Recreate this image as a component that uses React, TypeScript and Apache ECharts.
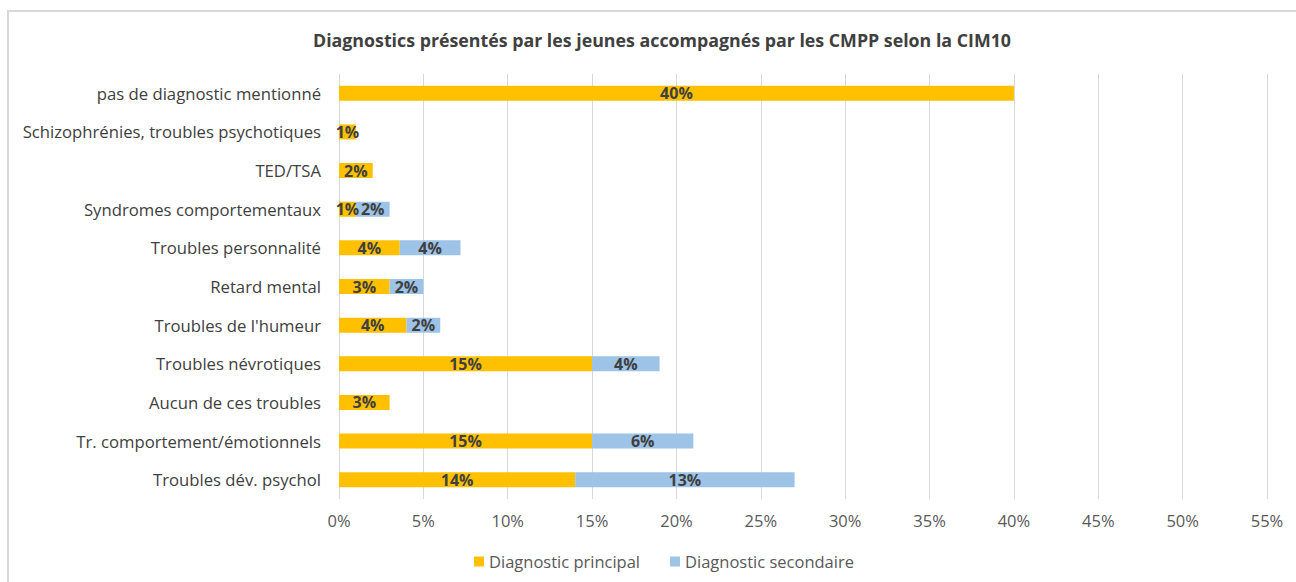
import React, { useEffect, useRef } from "react";
import * as echarts from "echarts";

const categories = [
  "Troubles dév. psychol",
  "Tr. comportement/émotionnels",
  "Aucun de ces troubles",
  "Troubles névrotiques",
  "Troubles de l'humeur",
  "Retard mental",
  "Troubles personnalité",
  "Syndromes comportementaux",
  "TED/TSA",
  "Schizophrénies, troubles psychotiques",
  "pas de diagnostic mentionné",
];
const principal = [14, 15, 3, 15, 4, 3, 3.6, 1, 2, 1, 40];
const secondaire = [13, 6, null, 4, 2, 2, 3.6, 2, null, null, null];
const xTicks = [0, 5, 10, 15, 20, 25, 30, 35, 40, 45, 50, 55];
const title = "Diagnostics présentés par les jeunes accompagnés par les CMPP selon la CIM10";
const seriesNames = ["Diagnostic principal", "Diagnostic secondaire"];

export default function App() {
  const ref = useRef<HTMLDivElement>(null);
  useEffect(() => {
    if (!ref.current) return;
    const chart = echarts.init(ref.current, undefined, { renderer: "svg" });
    const label = {
      show: true,
      position: "inside" as const,
      formatter: (p: any) => Math.round(p.value) + "%",
      color: "#404040",
      fontWeight: "bold" as const,
      fontSize: 16,
      fontFamily: "Open Sans",
    };
    chart.setOption({
      animation: false,
      backgroundColor: "#ffffff",
      title: {
        text: title,
        left: 657,
        top: 26,
        textAlign: "center",
        textStyle: { fontFamily: "Open Sans", fontWeight: "bold", fontSize: 17.8, color: "#404040" },
      },
      graphic: [
        {
          type: "rect",
          shape: { x: 8, y: 11, width: 1300, height: 600 },
          style: { fill: "none", stroke: "#d9d9d9", lineWidth: 2 },
          silent: true,
        },
      ],
      legend: {
        data: seriesNames,
        left: 469,
        top: 548,
        itemWidth: 10,
        itemHeight: 10,
        itemGap: 30,
        icon: "rect",
        textStyle: { fontFamily: "Open Sans", fontSize: 16.5, color: "#595959" },
      },
      grid: { left: 339, right: 29, top: 74, bottom: 83 },
      xAxis: {
        type: "value",
        min: 0,
        max: 55,
        interval: 5,
        axisLabel: {
          formatter: (v: number) => (xTicks.includes(v) ? v + "%" : ""),
          color: "#595959",
          fontSize: 16.5,
          fontFamily: "Open Sans",
          margin: 13,
        },
        axisLine: { show: false },
        axisTick: { show: false },
        splitLine: { show: true, lineStyle: { color: "#d9d9d9", width: 1 } },
      },
      yAxis: {
        type: "category",
        data: categories,
        axisLabel: { color: "#404040", fontSize: 16.7, fontFamily: "Open Sans", margin: 18 },
        axisLine: { show: false },
        axisTick: { show: false },
      },
      series: [
        {
          name: seriesNames[0],
          type: "bar",
          stack: "total",
          data: principal,
          barWidth: 15,
          itemStyle: { color: "#FFC000" },
          label,
        },
        {
          name: seriesNames[1],
          type: "bar",
          stack: "total",
          data: secondaire,
          barWidth: 15,
          itemStyle: { color: "#9DC3E6" },
          label,
        },
      ],
    });
    return () => chart.dispose();
  }, []);
  return (
    <div
      ref={ref}
      style={{ position: "fixed", left: 0, top: 0, width: 1296, height: 582 }}
    />
  );
}
